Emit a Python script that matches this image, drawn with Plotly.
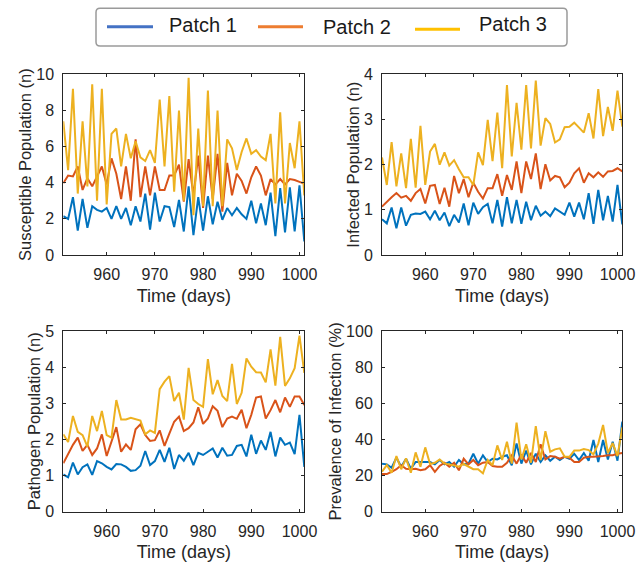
import plotly.graph_objects as go

W, H = 637, 562

days = list(range(951, 1002))
series_names = ["Patch 1", "Patch 2", "Patch 3"]
line_colors = ["#0072BD", "#D95319", "#EDB120"]
legend_colors = ["#4472C4", "#ED7D31", "#FFC000"]

x_ticks = [960, 970, 980, 990, 1000]

# Susceptible population
sus_p1 = [2.15, 2.0, 3.2, 1.35, 3.1, 1.5, 2.7, 2.5, 2.4, 2.6,
          2.0, 2.7, 2.0, 2.6, 1.65, 2.7, 1.85, 3.4, 1.4, 3.45,
          1.85, 2.7, 2.65, 1.55, 3.05, 1.3, 3.8, 1.1, 3.2, 1.35,
          3.25, 1.7, 2.95, 1.95, 2.6, 2.2, 2.6, 2.25, 2.0, 3.0,
          1.75, 2.85, 1.65, 3.45, 1.05, 3.7, 1.25, 3.75, 1.3, 3.85,
          0.75]
sus_p2 = [3.97, 4.4, 4.35, 4.9, 3.6, 4.25, 3.8, 4.4, 4.9, 3.9,
          5.35, 4.5, 3.1, 4.9, 3.0, 6.4, 3.2, 4.9, 3.3, 4.9,
          3.6, 3.6, 4.4, 4.4, 5.0, 2.95, 5.3, 3.3, 5.5, 2.6,
          5.5, 3.1, 5.6, 2.4, 5.1, 3.3, 4.5, 4.1, 3.4, 4.3,
          4.9, 4.4, 3.3, 4.2, 3.9, 4.2, 3.9, 4.2, 4.15, 4.05,
          3.95]
sus_p3 = [7.4, 4.7, 9.2, 3.4, 7.4, 3.8, 9.45, 3.0, 9.2, 2.8,
          6.7, 7.0, 4.9, 6.7, 5.35, 6.3, 5.4, 5.2, 5.8, 5.1,
          8.6, 4.9, 8.8, 3.5, 8.0, 3.0, 9.8, 2.2, 7.0, 2.7,
          9.1, 2.7, 8.0, 2.7, 6.4, 5.9, 4.7, 5.7, 6.45, 5.6,
          5.8, 5.45, 5.25, 6.7, 2.85, 7.9, 2.85, 6.2, 4.8, 7.4,
          3.3]

# Infected population
inf_p1 = [0.79, 0.7, 1.05, 0.59, 1.05, 0.65, 0.89, 0.92, 0.91, 0.96,
          0.79, 0.98, 0.77, 0.94, 0.64, 0.89, 0.72, 1.14, 0.66, 1.16,
          0.91, 1.06, 1.13, 0.7, 1.22, 0.63, 1.28, 0.7, 1.22, 0.69,
          1.18, 0.77, 1.09, 0.87, 0.96, 0.86, 1.03, 0.96, 0.89, 1.16,
          0.85, 1.16, 0.79, 1.37, 0.69, 1.44, 0.77, 1.31, 0.74, 1.55,
          0.68]
inf_p2 = [1.07, 1.18, 1.28, 1.37, 1.27, 1.31, 1.2, 1.37, 1.46, 1.14,
          1.53, 1.55, 1.13, 1.49, 1.07, 1.75, 1.37, 1.68, 1.28, 1.6,
          1.4, 1.25, 1.48, 1.48, 1.79, 1.31, 1.77, 1.44, 2.07, 1.37,
          2.07, 1.68, 2.25, 1.46, 2.01, 1.65, 1.75, 1.72, 1.5, 1.6,
          1.81, 1.92, 1.6, 1.81, 1.72, 1.83, 1.73, 1.85, 1.86, 1.92,
          1.85]
inf_p3 = [2.16, 1.55, 2.5, 1.52, 2.25, 1.48, 2.57, 1.49, 2.86, 1.55,
          2.29, 2.46, 2.0, 2.27, 1.98, 2.1, 1.9, 1.72, 1.72, 1.55,
          2.27, 1.99, 2.99, 2.08, 3.15, 1.92, 3.76, 2.18, 3.37, 2.33,
          3.76, 2.36, 3.86, 2.42, 3.03, 2.9, 2.49, 2.56, 2.83, 2.84,
          2.93, 2.83, 2.71, 3.14, 2.58, 3.67, 2.63, 3.28, 2.75, 3.64,
          2.84]

# Pathogen population
pat_p1 = [1.03, 0.95, 1.36, 1.03, 1.23, 1.31, 1.02, 1.4, 1.34, 1.24,
          1.17, 1.32, 1.31, 1.24, 1.13, 1.15, 1.27, 1.68, 1.29, 1.4,
          1.71, 1.38, 1.77, 1.18, 1.57, 1.41, 1.63, 1.29, 1.63, 1.57,
          1.66, 1.75, 1.5, 1.77, 1.55, 1.57, 1.82, 1.85, 1.53, 2.13,
          1.6, 1.97, 1.71, 2.21, 1.53, 2.05, 1.85, 1.91, 1.59, 2.68,
          1.24]
pat_p2 = [1.34, 1.61, 1.85, 2.05, 1.68, 1.85, 1.57, 1.75, 2.14, 1.54,
          1.93, 2.34, 1.66, 1.86, 1.71, 2.28, 2.42, 2.12, 1.96, 1.98,
          2.25, 1.82, 2.16, 2.49, 2.63, 2.23, 2.31, 2.47, 2.89, 2.43,
          2.58, 2.92, 2.79, 2.34, 2.58, 2.63, 2.57, 2.82, 2.31, 2.68,
          3.16, 3.19, 2.58, 2.81, 3.09, 2.75, 3.16, 2.9, 3.19, 3.19,
          2.95]
pat_p3 = [2.14, 1.93, 2.65, 2.21, 2.12, 1.8, 2.65, 2.23, 2.79, 2.12,
          2.05, 3.09, 2.55, 2.55, 2.6, 2.57, 2.52, 2.14, 2.25, 2.18,
          3.39, 3.6, 3.75, 3.06, 3.29, 2.55, 3.98, 3.09, 2.98, 2.9,
          4.22, 3.25, 3.64, 3.2, 3.06, 4.09, 2.98, 3.29, 4.24, 4.01,
          3.86, 3.85, 3.58, 4.49, 3.49, 4.84, 3.48, 3.69, 3.97, 4.87,
          3.84]

# Prevalence of infection (%)
prev_p1 = [26.6, 26.2, 24.3, 29.9, 24.9, 29.3, 23.8, 27.5, 27.5, 27.5,
           27.5, 26.2, 28.6, 26.2, 27.5, 24.9, 28.6, 26.2, 26.6, 32.1,
           26.6, 31.2, 27.5, 29.3, 28.9, 30.4, 31.2, 25.7, 37.8, 26.6,
           33.8, 26.2, 32.1, 27.5, 31.2, 28.2, 30.4, 28.6, 30.4, 29.3,
           32.1, 28.6, 32.5, 28.2, 39.7, 27.5, 39.7, 28.9, 38.7, 28.2,
           49.8]
prev_p2 = [20.8, 20.8, 22.1, 23.5, 25.7, 23.8, 23.5, 23.8, 22.9, 23.5,
           25.7, 22.1, 25.3, 27.1, 24.9, 27.1, 22.9, 29.3, 26.2, 28.6,
           25.7, 27.1, 27.5, 25.3, 24.9, 24.9, 27.1, 31.2, 26.6, 31.7,
           27.1, 32.5, 27.5, 37.3, 28.9, 30.8, 30.4, 29.3, 30.4, 29.9,
           27.5, 27.5, 29.9, 30.4, 30.4, 30.4, 30.8, 31.2, 31.2, 32.1,
           32.5]
prev_p3 = [22.1, 25.8, 21.6, 30.8, 23.5, 29.5, 21.6, 32.8, 24.9, 35.6,
           26.4, 27.1, 28.9, 26.6, 26.2, 25.7, 24.9, 26.4, 24.9, 23.5,
           23.5, 21.2, 28.6, 25.7, 36.7, 28.6, 38.7, 26.6, 49.3, 28.9,
           37.3, 27.1, 47.4, 28.6, 44.6, 33.2, 34.5, 35.1, 30.4, 30.4,
           33.8, 33.8, 34.7, 34.1, 31.7, 37.7, 48.0, 32.5, 38.0, 30.8,
           46.7]

panels = [
    ("Susceptible Population (n)", [sus_p1, sus_p2, sus_p3], [0, 10], [0, 2, 4, 6, 8, 10]),
    ("Infected Population (n)", [inf_p1, inf_p2, inf_p3], [0, 4], [0, 1, 2, 3, 4]),
    ("Pathogen Population (n)", [pat_p1, pat_p2, pat_p3], [0, 5], [0, 1, 2, 3, 4, 5]),
    ("Prevalence of Infection (%)", [prev_p1, prev_p2, prev_p3], [0, 100], [0, 20, 40, 60, 80, 100]),
]

# pixel geometry of plot areas (left, right, top, bottom)
boxes = [
    (63.3, 304.3, 74.3, 255.0),
    (382.0, 622.3, 74.3, 255.0),
    (63.3, 304.3, 331.0, 511.7),
    (382.0, 622.3, 331.0, 511.7),
]

FONT = "Liberation Sans, Arial, Helvetica, sans-serif"
AX = "#262626"

fig = go.Figure()
layout = {}
for k, ((ytitle, vals, yr, yt), (l, r, t, b)) in enumerate(zip(panels, boxes)):
    n = "" if k == 0 else str(k + 1)
    for name, v, c in zip(series_names, vals, line_colors):
        fig.add_trace(go.Scatter(x=days, y=v, mode="lines", name=name,
                                 line=dict(color=c, width=2),
                                 xaxis="x" + n, yaxis="y" + n, showlegend=False))
    common = dict(showline=True, linecolor=AX, linewidth=1, mirror="ticks",
                  ticks="inside", ticklen=3, tickwidth=1, tickcolor=AX,
                  showgrid=False, zeroline=False, automargin=False,
                  tickfont=dict(family=FONT, size=16, color=AX))
    layout["xaxis" + n] = dict(common, domain=[l / W, r / W], range=[951, 1001],
                               tickvals=x_ticks, anchor="y" + n,
                               ticklabelstandoff=5,
                               title=dict(text="Time (days)", standoff=7,
                                          font=dict(family=FONT, size=18, color=AX)))
    layout["yaxis" + n] = dict(common, domain=[1 - b / H, 1 - t / H], range=yr,
                               tickvals=yt, anchor="x" + n,
                               ticklabelstandoff=5,
                               title=dict(text=ytitle, standoff=0,
                                          font=dict(family=FONT, size=16.5, color=AX)))

fig.update_layout(**layout)

# legend box (hand-drawn, like the reference)
def px(x):
    return x / W

def py(y):
    return 1 - y / H

bx0, bx1, by0, by1, rr = 96, 567, 8.3, 46, 4
path = (f"M {px(bx0 + rr)},{py(by0)} L {px(bx1 - rr)},{py(by0)} "
        f"Q {px(bx1)},{py(by0)} {px(bx1)},{py(by0 + rr)} L {px(bx1)},{py(by1 - rr)} "
        f"Q {px(bx1)},{py(by1)} {px(bx1 - rr)},{py(by1)} L {px(bx0 + rr)},{py(by1)} "
        f"Q {px(bx0)},{py(by1)} {px(bx0)},{py(by1 - rr)} L {px(bx0)},{py(by0 + rr)} "
        f"Q {px(bx0)},{py(by0)} {px(bx0 + rr)},{py(by0)} Z")
shapes = [dict(type="path", path=path, xref="paper", yref="paper",
               line=dict(color="#9a9a9a", width=1.5), fillcolor="white", layer="above")]
annotations = []
leg_lines = [(107, 153, 26.7), (258, 303, 26.7), (415, 460, 29.3)]
leg_text = [(166.5, 24.5), (320.5, 26.8), (477.0, 24.2)]
for name, c, (lx0, lx1, ly), (tx, ty) in zip(series_names, legend_colors, leg_lines, leg_text):
    shapes.append(dict(type="line", xref="paper", yref="paper",
                       x0=px(lx0), x1=px(lx1), y0=py(ly), y1=py(ly),
                       line=dict(color=c, width=3), layer="above"))
    annotations.append(dict(text=name, xref="paper", yref="paper", x=px(tx), y=py(ty),
                            xanchor="left", yanchor="middle", showarrow=False,
                            font=dict(family=FONT, size=20, color="#1a1a1a")))

fig.update_layout(width=W, height=H, margin=dict(l=0, r=0, t=0, b=0),
                  paper_bgcolor="white", plot_bgcolor="white",
                  shapes=shapes, annotations=annotations, showlegend=False)

fig.write_html("out.html", config={"displayModeBar": False},
               post_script="document.body.style.margin='0';document.body.style.overflow='hidden';")
